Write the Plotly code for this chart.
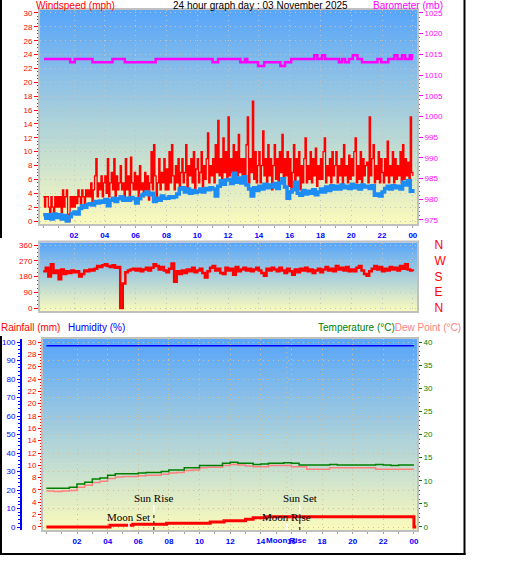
import plotly.graph_objects as go

W, H = 529, 563

hour_ticks = [2, 4, 6, 8, 10, 12, 14, 16, 18, 20, 22, 24]
hour_labels = ["02", "04", "06", "08", "10", "12", "14", "16", "18", "20", "22", "00"]

# gust readings every 5 minutes, 00:00 .. 24:00
gust_mph = [
    3.5, 2.0, 3.5, 3.5, 2.0, 1.0, 3.5, 2.0, 0.5, 3.5, 2.0, 3.5,
    2.0, 3.5, 1.0, 4.5, 2.0, 3.5, 4.5, 1.0, 0.0, 3.5, 2.0, 3.5,
    2.0, 3.5, 2.5, 4.5, 3.5, 2.0, 4.5, 3.5, 2.5, 4.5, 3.5, 4.5,
    3.5, 5.5, 2.5, 4.5, 6.5, 9.0, 3.5, 5.5, 4.5, 6.5, 3.5, 5.5,
    6.5, 4.0, 9.0, 3.5, 5.5, 7.0, 4.5, 9.0, 3.5, 6.5, 4.5, 5.5,
    8.0, 4.5, 5.5, 3.5, 9.0, 4.5, 6.5, 3.0, 9.2, 5.5, 4.5, 7.0,
    4.5, 6.5, 3.5, 8.0, 4.5, 5.5, 3.5, 7.0, 4.5, 6.5, 3.0, 5.5,
    10.0, 4.5, 11.0, 6.5, 3.5, 5.5, 9.0, 4.5, 7.0, 5.5, 9.0, 4.5,
    7.5, 4.5, 10.0, 5.5, 11.0, 6.5, 4.5, 8.0, 5.5, 9.0, 4.5, 7.0,
    9.0, 5.5, 7.0, 11.0, 4.5, 8.0, 6.5, 9.0, 5.5, 10.0, 4.5, 7.5,
    9.0, 5.5, 7.0, 10.0, 4.5, 8.0, 6.0, 9.0, 12.7, 5.5, 8.0, 6.5,
    9.0, 5.5, 11.0, 7.0, 14.5, 6.5, 9.0, 5.5, 12.0, 7.0, 10.0, 6.0,
    15.0, 6.5, 9.0, 7.0, 11.0, 5.5, 10.0, 6.5, 12.5, 7.0, 9.0, 6.0,
    9.0, 6.5, 11.0, 15.0, 5.5, 9.0, 7.0, 17.3, 6.0, 10.0, 5.5, 8.0,
    10.0, 5.5, 8.0, 13.0, 6.5, 9.0, 5.0, 11.0, 6.5, 9.0, 4.5, 8.0,
    11.0, 6.0, 9.0, 5.5, 10.0, 7.0, 12.5, 5.5, 9.0, 6.5, 10.0, 5.0,
    9.0, 4.5, 7.0, 11.0, 5.5, 9.0, 6.5, 10.0, 4.5, 8.0, 5.5, 9.0,
    12.0, 5.5, 8.0, 6.0, 10.0, 5.5, 9.0, 6.5, 10.5, 5.0, 8.0, 6.0,
    9.0, 6.0, 10.0, 12.0, 5.5, 8.0, 6.5, 9.0, 5.5, 10.0, 6.5, 8.0,
    10.0, 5.5, 8.0, 6.5, 9.0, 5.0, 11.0, 6.5, 8.0, 5.5, 9.5, 6.0,
    9.0, 6.5, 10.0, 12.0, 5.5, 8.0, 6.0, 10.0, 5.5, 9.0, 6.5, 8.0,
    8.5, 5.5, 15.0, 6.5, 9.0, 11.0, 5.5, 8.0, 6.0, 10.0, 5.5, 9.0,
    7.0, 5.5, 9.0, 6.5, 11.5, 5.5, 8.0, 6.5, 10.0, 5.5, 9.0, 6.0,
    8.0, 6.5, 10.0, 5.5, 11.0, 6.0, 9.0, 6.5, 8.5, 5.5, 15.0, 7.0,
    6.5,
]
# average wind and direction every 10 minutes
avg_mph = [
    0.9, 0.4, 0.9, 0.3, 1.0, 0.5,
    0.9, 0.3, 0.8, 0.0, 0.6, 1.1,
    1.3, 1.0, 1.8, 2.2, 2.0, 2.4,
    2.5, 2.3, 2.8, 2.6, 2.9, 2.7,
    3.1, 2.2, 3.0, 3.3, 2.8, 3.2,
    3.5, 3.0, 3.3, 3.0, 3.4, 3.2,
    2.6, 3.2, 3.7, 3.9, 4.2, 3.8,
    4.0, 2.8, 3.3, 3.0, 3.6, 3.3,
    3.3, 3.5, 3.4, 3.5, 3.9, 4.6,
    4.8, 4.2, 4.6, 4.0, 4.4, 4.1,
    4.3, 4.6, 4.2, 4.7, 4.5, 4.8,
    4.6, 3.6, 5.0, 5.8, 5.3, 5.9,
    6.0, 5.4, 6.9, 5.6, 6.2, 5.5,
    6.4, 5.2, 4.6, 3.6, 4.8, 4.4,
    5.0, 4.6, 5.3, 4.8, 5.2, 4.9,
    5.4, 4.7, 5.5, 6.1, 4.9, 3.3,
    4.2, 4.5, 5.6, 4.0, 3.7, 4.4,
    3.9, 4.3, 4.0, 4.5, 3.8, 4.2,
    4.6, 4.2, 4.9, 4.4, 5.1, 4.6,
    5.0, 4.6, 5.2, 4.8, 5.0, 4.7,
    5.3, 4.8, 5.1, 4.6, 5.2, 4.9,
    5.0, 4.7, 5.1, 3.7, 3.9, 3.6,
    4.2, 4.7, 5.0, 4.6, 5.1, 4.8,
    5.0, 4.6, 5.6, 5.2, 5.8, 4.3,
    4.6,
]
dir_deg = [
    210, 230, 180, 250, 200, 215,
    165, 220, 195, 210, 200, 215,
    205, 210, 180, 195, 215, 210,
    220, 215, 225, 240, 235, 245,
    250, 240, 235, 245, 230, 235,
    0, 140, 205, 215, 220, 225,
    215, 225, 210, 220, 230, 215,
    230, 250, 240, 220, 235, 215,
    205, 225, 255, 150, 210, 195,
    215, 200, 220, 210, 230, 205,
    215, 225, 200, 175, 210, 230,
    240, 215, 225, 200, 195, 230,
    215, 225, 190, 235, 210, 220,
    230, 215, 225, 210, 220, 230,
    215, 200, 185, 225, 215, 230,
    220, 210, 230, 215, 200, 225,
    210, 190, 220, 205, 225, 215,
    230, 210, 220, 200, 215, 225,
    205, 220, 235, 215, 225, 210,
    240, 220, 230, 215, 235, 210,
    220, 210, 230, 240, 215, 195,
    185, 210, 225, 240, 220, 235,
    210, 225, 215, 235, 220, 230,
    215, 240, 225, 250, 220, 215,
    210,
]

# barometer: times where the reading changes, and the new reading
baro_hours = [0.05, 1.75, 2.05, 3.2, 4.5, 5.3, 7.3, 11.0, 11.35, 12.8, 13.1, 13.25,
              13.95, 14.35, 15.4, 15.7, 16.1, 17.6, 17.8, 18.1, 18.3, 19.2, 19.4,
              19.6, 19.85, 20.1, 20.4, 20.7, 21.7, 21.95, 22.4, 22.8, 23.0, 23.3,
              23.5, 23.8, 23.95, 24.0]
baro_mb = [1013.9, 1013.1, 1013.9, 1013.1, 1013.9, 1013.1, 1013.9, 1013.1, 1013.9,
           1013.1, 1013.9, 1013.1, 1012.2, 1013.1, 1012.2, 1013.1, 1013.9, 1014.8,
           1013.9, 1014.8, 1013.9, 1013.1, 1013.9, 1013.1, 1013.9, 1014.8, 1013.9,
           1013.1, 1013.9, 1013.1, 1013.9, 1014.8, 1013.9, 1014.8, 1013.9, 1014.8,
           1013.9, 1013.9]

# temperature / dew point every 30 minutes, humidity hourly
temp_c = [8.4, 8.4, 8.4, 8.6, 9.3, 9.7, 10.4, 10.6, 11.2, 11.5, 11.5, 11.5,
          11.7, 11.8, 11.8, 12.0, 12.3, 12.3, 12.8, 12.8, 13.3, 13.3, 13.3, 13.8,
          14.0, 13.8, 13.8, 13.5, 13.6, 13.8, 13.8, 13.9, 13.8, 13.4, 13.4, 13.4,
          13.4, 13.5, 13.4, 13.4, 13.4, 13.4, 13.4, 13.5, 13.4, 13.3, 13.4, 13.4, 13.4]
dew_c = [7.8, 7.7, 7.8, 7.9, 8.6, 9.0, 9.6, 9.9, 10.5, 10.8, 10.9, 10.9,
         11.1, 11.2, 11.2, 11.4, 11.7, 11.8, 12.2, 12.3, 12.8, 12.9, 12.9, 13.3,
         13.5, 13.4, 13.2, 13.0, 13.0, 13.3, 13.3, 13.3, 13.0, 13.0, 12.5, 12.5,
         12.5, 12.8, 12.8, 12.8, 12.8, 12.8, 12.8, 12.5, 12.5, 12.5, 12.5, 12.5, 12.5]
hum_pct = [98, 98, 98, 98, 98, 98, 98, 98, 98, 98, 98, 98, 98,
           98, 98, 98, 98, 98, 98, 98, 98, 98, 98, 98, 98]

rain_hours = [0.0, 4.15, 5.65, 7.85, 10.7, 11.6, 13.0, 13.5, 14.4, 24.0, 24.15]
rain_mm = [0.0, 0.3, 0.45, 0.6, 0.8, 1.0, 1.25, 1.5, 1.65, 0.0, 0.0]

event_names = ["Moon Set", "Sun Rise", "Moon Rise", "Sun Set"]
event_hours = [5.39, 7.02, 15.7, 16.55]

five_min = [i / 12 for i in range(len(gust_mph))]
ten_min = [i / 6 for i in range(len(avg_mph))]
half_hour = [i / 2 for i in range(len(temp_c))]
whole_hour = list(range(len(hum_pct)))


def fx(px):
    return px / W


def fy(py):
    return 1 - py / H


# plot boxes in pixels: left, right, top, bottom
P1 = (40, 417, 10, 224)
P2 = (40, 417, 242.5, 311)
P3 = (43, 417, 339, 530)

FONT = "Liberation Sans"
GRID = "#c4c4c4"
GRID3 = "#d6c092"
TOP_C = (88, 165, 250)
BOT_C = (250, 250, 188)


def gradient(p, n=40):
    x0, x1, y0, y1 = p
    out = []
    for k in range(n):
        t = (k + 0.5) / n
        c = [round(a + (b - a) * t) for a, b in zip(TOP_C, BOT_C)]
        ya = y0 + (y1 - y0) * k / n
        yb = y0 + (y1 - y0) * (k + 1) / n + 0.7
        out.append(dict(type="rect", xref="paper", yref="paper",
                        x0=fx(x0), x1=fx(x1), y0=fy(min(yb, y1)), y1=fy(ya),
                        fillcolor="rgb(%d,%d,%d)" % tuple(c), line_width=0, layer="below"))
    return out


def border(p):
    x0, x1, y0, y1 = p
    return dict(type="rect", xref="paper", yref="paper", x0=fx(x0 - 1), x1=fx(x1 + 1),
                y0=fy(y1 + 1), y1=fy(y0 - 1), line=dict(color="#c0c0c0", width=2), layer="above")


def time_axis(p, rng, anchor, labels=True, grid=GRID):
    tk = "outside" if labels else ""
    return dict(domain=[fx(p[0]), fx(p[1])], anchor=anchor, range=rng,
                tickmode="array", tickvals=hour_ticks, ticktext=hour_labels,
                showticklabels=labels, ticks=tk, ticklen=3, tickcolor="#a0a0a0",
                tickfont=dict(family=FONT, size=8, color="#0000ff", weight="bold"),
                showgrid=True, gridcolor=grid, griddash="1px,4px", gridwidth=1,
                minor=dict(tickmode="linear", tick0=0, dtick=1, ticks=tk, ticklen=3,
                           tickcolor="#a0a0a0", showgrid=False),
                zeroline=False, showline=False, fixedrange=True)


def value_axis(color, rng, dtick, minor, tick0=0, **kw):
    d = dict(range=rng, tickmode="linear", tick0=tick0, dtick=dtick,
             ticks="outside", ticklen=5, tickcolor=color, tickwidth=1,
             tickfont=dict(family=FONT, size=8, color=color),
             minor=dict(dtick=minor, tick0=tick0, ticks="outside", ticklen=2, tickcolor=color, showgrid=False),
             showgrid=False, zeroline=False, showline=False, fixedrange=True)
    d.update(kw)
    return d


fig = go.Figure()

# windspeed + barometer
fig.add_trace(go.Scatter(x=five_min, y=gust_mph, xaxis="x", yaxis="y", mode="lines",
                         line=dict(color="#ff0000", width=1.3, shape="hv")))
fig.add_trace(go.Scatter(x=ten_min, y=avg_mph, xaxis="x", yaxis="y", mode="lines",
                         line=dict(color="#1e8cf5", width=3.5, shape="hv")))
fig.add_trace(go.Scatter(x=baro_hours, y=baro_mb, xaxis="x", yaxis="y2", mode="lines",
                         line=dict(color="#ff00ff", width=2.5, shape="hv")))

# wind direction
fig.add_trace(go.Scatter(x=ten_min, y=dir_deg, xaxis="x2", yaxis="y3", mode="lines",
                         line=dict(color="#ff0000", width=2.5, shape="hv")))
fig.add_trace(go.Scatter(x=[12], y=[-500], xaxis="x2", yaxis="y4", mode="markers",
                         marker=dict(opacity=0), hoverinfo="skip"))

# humidity, temperature, dew point, rain
fig.add_trace(go.Scatter(x=whole_hour, y=hum_pct, xaxis="x3", yaxis="y6", mode="lines",
                         line=dict(color="#0000ff", width=1.5)))
fig.add_trace(go.Scatter(x=half_hour, y=dew_c, xaxis="x3", yaxis="y7", mode="lines",
                         line=dict(color="#ff8080", width=1.5, shape="hv")))
fig.add_trace(go.Scatter(x=half_hour, y=temp_c, xaxis="x3", yaxis="y7", mode="lines",
                         line=dict(color="#008000", width=1.5, shape="hv")))
fig.add_trace(go.Scatter(x=rain_hours, y=rain_mm, xaxis="x3", yaxis="y5", mode="lines",
                         line=dict(color="#ff0000", width=3, shape="hv")))

shapes = gradient(P1) + gradient(P2) + gradient(P3)
shapes += [border(P1), border(P2), border(P3)]

annotations = []
for name, hr in zip(event_names, event_hours):
    sun = name.startswith("Sun")
    if sun:
        shapes.append(dict(type="line", xref="x3", yref="paper", x0=hr, x1=hr,
                           y0=fy(513), y1=fy(505), line=dict(color="white", width=1.5)))
        shapes.append(dict(type="line", xref="x3", yref="paper", x0=hr, x1=hr,
                           y0=fy(530), y1=fy(513), line=dict(color="black", width=1, dash="dot")))
    else:
        shapes.append(dict(type="line", xref="x3", yref="paper", x0=hr, x1=hr,
                           y0=fy(530), y1=fy(523), line=dict(color="white", width=1.5)))
    annotations.append(dict(text=name, xref="x3", yref="paper", x=hr, y=fy(498 if sun else 517),
                            showarrow=False, xanchor="center", yanchor="middle",
                            font=dict(family="Liberation Serif", size=11, color="black")))
    if name == "Moon Rise":
        shapes.append(dict(type="line", xref="x3", yref="paper", x0=hr, x1=hr,
                           y0=fy(523), y1=fy(339), line=dict(color=GRID3, width=1, dash="1px,4px"),
                           layer="below"))
        annotations.append(dict(text=name, xref="x3", yref="paper", x=hr, y=fy(540),
                                showarrow=False, xanchor="center", yanchor="middle",
                                font=dict(family=FONT, size=8, color="#0000ff", weight="bold")))

# black frame
frame = dict(color="black", width=2)
shapes += [
    dict(type="line", xref="paper", yref="paper", x0=fx(464.5), x1=fx(464.5), y0=fy(555), y1=1, line=frame),
    dict(type="line", xref="paper", yref="paper", x0=0, x1=fx(465.5), y0=fy(554), y1=fy(554), line=frame),
    dict(type="line", xref="paper", yref="paper", x0=fx(1), x1=fx(1), y0=fy(238), y1=1, line=frame),
    dict(type="line", xref="paper", yref="paper", x0=fx(1), x1=fx(1), y0=fy(555), y1=fy(336), line=frame),
]


def label(text, xpx, ypx, color, anchor="left"):
    return dict(text=text, xref="paper", yref="paper", x=fx(xpx), y=fy(ypx), showarrow=False,
                xanchor=anchor, yanchor="middle", font=dict(family=FONT, size=10, color=color))


annotations += [
    label("Windspeed (mph)", 34, 5, "#ff0000"),
    label("24 hour graph day : 03 November 2025", 171, 5, "black"),
    label("Barometer (mb)", 371, 5, "#ff00ff"),
    label("Rainfall (mm)", -1, 327, "#ff0000"),
    label("Humidity (%)", 66, 327, "#0000ff"),
    label("<span style='color:#008000'>Temperature (°C)</span>"
          "<span style='color:#ff8080'>Dew Point (°C)</span>", 463, 327, "#008000", anchor="right"),
]

fig.update_layout(
    template="none",
    width=W, height=H,
    margin=dict(l=0, r=0, t=0, b=0),
    paper_bgcolor="white",
    plot_bgcolor="rgba(0,0,0,0)",
    showlegend=False,
    xaxis=time_axis(P1, [-0.208, 24.27], "y"),
    xaxis2=time_axis(P2, [-0.208, 24.27], "y3", labels=False),
    xaxis3=time_axis(P3, [-0.22, 24.2], "y5", grid=GRID3),
    yaxis=value_axis("#ff0000", [-0.43, 30.43], 2, 0.5, anchor="x",
                     domain=[fy(P1[3]), fy(P1[2])],
                     showgrid=True, gridcolor=GRID, griddash="1px,4px"),
    yaxis2=value_axis("#ff00ff", [974.03, 1025.72], 5, 1, tick0=975, anchor="x",
                      overlaying="y", side="right"),
    yaxis3=value_axis("#ff0000", [-17.1, 374.3], 90, 22.5, anchor="x2",
                      domain=[fy(P2[3]), fy(P2[2])],
                      showgrid=True, gridcolor=GRID, griddash="1px,4px"),
    yaxis4=dict(range=[-17.1, 374.3], anchor="x2", overlaying="y3", side="right",
                tickmode="array", tickvals=[360, 270, 180, 90, 0], ticktext=["N", "W", "S", "E", "N"],
                ticks="outside", ticklen=14, tickcolor="rgba(0,0,0,0)",
                tickfont=dict(family=FONT, size=12, color="#ff0000"),
                showgrid=False, zeroline=False, showline=False, fixedrange=True),
    yaxis5=value_axis("#ff0000", [-0.49, 30.49], 2, 0.5, anchor="x3",
                      domain=[fy(P3[3]), fy(P3[2])], ticklen=4),
    yaxis6=value_axis("#0000ff", [-1.62, 101.62], 10, 2, anchor="free", position=fx(21),
                      overlaying="y5", side="left", ticklen=3,
                      showline=True, linecolor="#0000ff", linewidth=2,
                      showgrid=True, gridcolor=GRID3, griddash="1px,4px"),
    yaxis7=value_axis("#008000", [-0.65, 40.65], 5, 1, anchor="x3",
                      overlaying="y5", side="right", ticklen=4),
    shapes=shapes,
    annotations=annotations,
)

# the page's default body margin would shift the figure by 8px
fig.write_html("out.html", config={"displayModeBar": False},
               post_script="document.body.style.margin='0px';")
